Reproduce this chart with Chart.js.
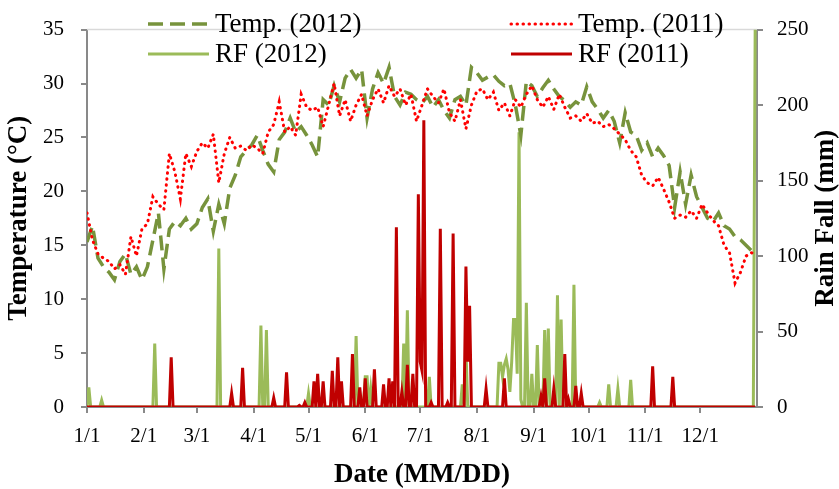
<!DOCTYPE html>
<html>
<head>
<meta charset="utf-8">
<script src="https://cdn.jsdelivr.net/npm/chart.js@4.4.1/dist/chart.umd.min.js"></script>
<style>
  html, body { margin: 0; padding: 0; background: #fff; }
</style>
</head>
<body>
<canvas id="myChart" width="839" height="489"></canvas>
<script>
// month ticks (day of year, 2012 is a leap year)
const monthStarts = [0, 31, 60, 91, 121, 152, 182, 213, 244, 274, 305, 335];
const monthLabels = ['1/1', '2/1', '3/1', '4/1', '5/1', '6/1', '7/1', '8/1', '9/1', '10/1', '11/1', '12/1'];

// temperature read every 3rd day (0, 3, ... 363) plus the last day (365)
const tempDays = [];
for (let d = 0; d <= 363; d += 3) tempDays.push(d);
tempDays.push(365);

const temp2012 = [
  15.3, 16.8, 13.8, 13.0, 12.5, 11.8, 13.5, 14.2, 12.3, 13.0,
  11.8, 13.0, 15.5, 18.0, 12.8, 16.5, 17.2, 16.8, 17.5, 16.5,
  17.0, 18.5, 19.3, 16.3, 18.8, 17.0, 20.3, 21.5, 23.2, 23.8,
  24.3, 25.2, 23.8, 22.5, 21.8, 24.8, 25.5, 26.8, 25.5, 26.0,
  25.2, 24.3, 23.2, 28.5, 28.0, 29.8, 28.3, 30.5, 31.3, 30.5,
  31.3, 26.8, 29.5, 31.0, 30.0, 31.5, 28.8, 28.0, 29.2, 29.0,
  28.5, 28.2, 28.8, 27.8, 28.5, 27.5, 26.8, 28.5, 28.8, 28.0,
  31.5, 31.0, 30.3, 30.6, 30.8, 30.2, 29.8, 30.0, 28.0, 25.2,
  30.2, 29.8, 28.8, 29.6, 30.3, 29.5, 28.8, 28.4, 27.8, 28.3,
  28.0, 29.7, 28.3, 27.6, 26.8, 27.5, 26.5, 24.5, 27.3, 25.5,
  25.2, 23.8, 24.5, 23.2, 24.0, 23.3, 22.4, 18.5, 21.8, 18.8,
  21.5, 19.5, 18.5, 17.5, 17.2, 18.0, 16.8, 16.5, 15.8, 15.5,
  15.0, 14.5,
  15.0
];

const temp2011 = [
  18.0, 15.5, 14.2, 13.8, 13.5, 12.8, 13.2, 12.3, 15.8, 14.0,
  16.5, 17.0, 19.5, 18.8, 18.3, 23.5, 21.8, 19.3, 23.5, 22.3,
  23.7, 24.5, 24.0, 25.3, 20.8, 23.5, 25.0, 24.0, 24.2, 23.8,
  24.3, 24.0, 23.5, 25.5, 26.2, 28.3, 25.5, 26.0, 25.2, 29.0,
  27.8, 27.5, 27.8, 26.0, 28.0, 30.0, 27.0, 28.5, 26.5, 28.0,
  29.0, 27.0, 28.5, 29.5, 28.2, 29.8, 28.8, 29.5, 28.0, 29.0,
  26.5, 28.0, 29.5, 28.8, 28.2, 29.5, 27.3, 26.5, 28.5, 25.8,
  28.0, 29.3, 29.5, 28.5, 29.2, 27.5, 28.2, 27.0, 28.5, 27.8,
  29.0, 29.8, 28.5, 27.8, 28.8, 27.6, 29.0, 27.8, 26.8, 27.0,
  26.5, 27.2, 26.3, 26.5, 26.0, 26.2, 25.8, 25.3, 24.8, 23.8,
  23.2, 21.5, 20.8, 20.5, 21.3, 20.2, 19.0, 17.5, 17.8, 17.6,
  18.2, 17.5, 18.8, 18.0, 17.3, 16.8, 15.0, 14.3, 11.5, 12.5,
  14.0, 14.3,
  14.2
];

// rain days (day of year) and amounts in mm; every other day is 0
const rf2012Days = [1, 8, 37, 72, 95, 98, 121, 147, 152, 153, 155, 173, 175, 187, 205, 207,
  225, 226, 227, 228, 229, 230, 231, 232, 233, 234, 235, 236, 237, 240, 243, 246, 250, 252,
  257, 259, 266, 280, 285, 290, 297, 365];
const rf2012Mm = [13, 4.5, 42, 105, 54, 51, 9, 47, 20, 20, 12, 42, 64, 20, 15, 38,
  29, 29, 20, 28, 32, 25, 10, 30, 58, 58, 22, 182, 5, 69, 22, 41, 51, 52,
  74, 58, 81, 3, 15, 12, 18, 250];

const rf2011Days = [46, 79, 85, 102, 109, 116, 119, 124, 126, 129, 134, 137, 139, 145, 149,
  152, 157, 162, 165, 167, 169, 172, 175, 178, 181, 182, 183, 184, 188, 193, 197, 200,
  207, 208, 209, 218, 228, 248, 250, 255, 261, 263, 267, 270, 309, 320];
const rf2011Mm = [33, 9, 26, 6, 23, 1, 3, 17, 22, 17, 24, 33, 17, 35, 13,
  19, 25, 15, 19, 17, 119, 10, 28, 22, 141, 30, 24, 190, 3, 118, 3, 115,
  93, 30, 67, 12, 19, 7, 19, 12, 35, 5, 14, 9, 27, 20];

function tempPoints(vals) {
  return tempDays.map((d, i) => ({ x: d, y: vals[i] }));
}
function rainPoints(days, vals) {
  const out = [];
  for (let d = 0; d <= 365; d++) out.push({ x: d, y: 0 });
  days.forEach((d, i) => { out[d].y = vals[i]; });
  return out;
}

const serif = 'Liberation Serif';
const axisGray = '#898989';

const decorations = {
  id: 'decorations',
  beforeDatasetsDraw(chart) {
    const { ctx, chartArea } = chart;
    ctx.save();
    ctx.strokeStyle = '#D9D9D9';
    ctx.lineWidth = 1.5;
    ctx.beginPath();
    ctx.moveTo(chartArea.left, chartArea.top);
    ctx.lineTo(chartArea.right, chartArea.top);
    ctx.stroke();
    ctx.restore();
  },
  afterDraw(chart) {
    const { ctx, chartArea } = chart;
    const right = chart.scales.y1;
    ctx.save();
    ctx.fillStyle = '#000';
    ctx.font = 'bold 27px "' + serif + '"';
    ctx.textAlign = 'center';
    ctx.textBaseline = 'middle';
    ctx.translate(right.right - 13, (chartArea.top + chartArea.bottom) / 2);
    ctx.rotate(-Math.PI / 2);
    ctx.fillText('Rain Fall (mm)', 0, 0);
    ctx.restore();

    // legend, two columns inside the plot
    const cols = [148, 511];
    const rows = [24, 54];
    const slots = [[0, 0], [1, 0], [0, 1], [1, 1]];
    chart.data.datasets.forEach((ds, i) => {
      const x = cols[slots[i][0]], y = rows[slots[i][1]];
      ctx.save();
      ctx.strokeStyle = ds.borderColor;
      ctx.lineWidth = ds.borderWidth;
      ctx.lineCap = ds.borderCapStyle || 'butt';
      ctx.setLineDash(ds.borderDash || []);
      ctx.beginPath();
      ctx.moveTo(x, y);
      ctx.lineTo(x + 61, y);
      ctx.stroke();
      ctx.setLineDash([]);
      ctx.fillStyle = '#000';
      ctx.font = '27px "' + serif + '"';
      ctx.textBaseline = 'middle';
      ctx.fillText(ds.label, x + 67, y + 1);
      ctx.restore();
    });
  }
};

new Chart('myChart', {
  type: 'line',
  data: {
    datasets: [{
      label: 'Temp. (2012)',
      data: tempPoints(temp2012),
      borderColor: '#77933C',
      borderWidth: 3.5,
      borderDash: [15, 7],
      yAxisID: 'y',
      order: 2
    }, {
      label: 'Temp. (2011)',
      data: tempPoints(temp2011),
      borderColor: '#FF0000',
      borderWidth: 3,
      borderDash: [0.5, 5.5],
      borderCapStyle: 'round',
      yAxisID: 'y',
      order: 1
    }, {
      label: 'RF (2012)',
      data: rainPoints(rf2012Days, rf2012Mm),
      borderColor: '#9BBB59',
      borderWidth: 3,
      yAxisID: 'y1',
      order: 4
    }, {
      label: 'RF (2011)',
      data: rainPoints(rf2011Days, rf2011Mm),
      borderColor: '#C00000',
      borderWidth: 3,
      yAxisID: 'y1',
      order: 3
    }]
  },
  options: {
    responsive: false,
    animation: false,
    events: [],
    layout: { padding: { top: 18, left: 0, right: 0, bottom: 0 } },
    elements: { point: { radius: 0 }, line: { tension: 0 } },
    plugins: { legend: { display: false }, tooltip: { enabled: false } },
    scales: {
      x: {
        type: 'linear',
        min: 0,
        max: 366,
        afterBuildTicks: s => { s.ticks = monthStarts.map(v => ({ value: v })); },
        afterFit: s => { s.height = 82; },
        ticks: {
          autoSkip: false, maxRotation: 0, padding: 11, color: '#000',
          font: { family: serif, size: 21 },
          callback: v => monthLabels[monthStarts.indexOf(v)]
        },
        grid: { drawOnChartArea: false, tickLength: 6, color: axisGray, lineWidth: 2 },
        border: { color: axisGray, width: 2 },
        title: {
          display: true, text: 'Date (MM/DD)', color: '#000',
          font: { family: serif, size: 27, weight: 'bold', lineHeight: 1 },
          padding: { top: 0, bottom: 0 }
        }
      },
      y: {
        position: 'left',
        min: 0,
        max: 35,
        afterFit: s => { s.width = 87; },
        ticks: { stepSize: 5, padding: 17, color: '#000', font: { family: serif, size: 21 } },
        grid: { drawOnChartArea: false, tickLength: 6, color: axisGray, lineWidth: 2 },
        border: { color: axisGray, width: 2 },
        title: {
          display: true, text: 'Temperature (°C)', color: '#000',
          font: { family: serif, size: 27, weight: 'bold', lineHeight: 1 },
          padding: { top: 6, bottom: 0 }
        }
      },
      y1: {
        position: 'right',
        min: 0,
        max: 250,
        afterFit: s => { s.width = 82; },
        ticks: { stepSize: 50, padding: 14, color: '#000', font: { family: serif, size: 21 } },
        grid: { drawOnChartArea: false, tickLength: 6, color: axisGray, lineWidth: 2 },
        border: { color: axisGray, width: 2 }
      }
    }
  },
  plugins: [decorations]
});
</script>
</body>
</html>
